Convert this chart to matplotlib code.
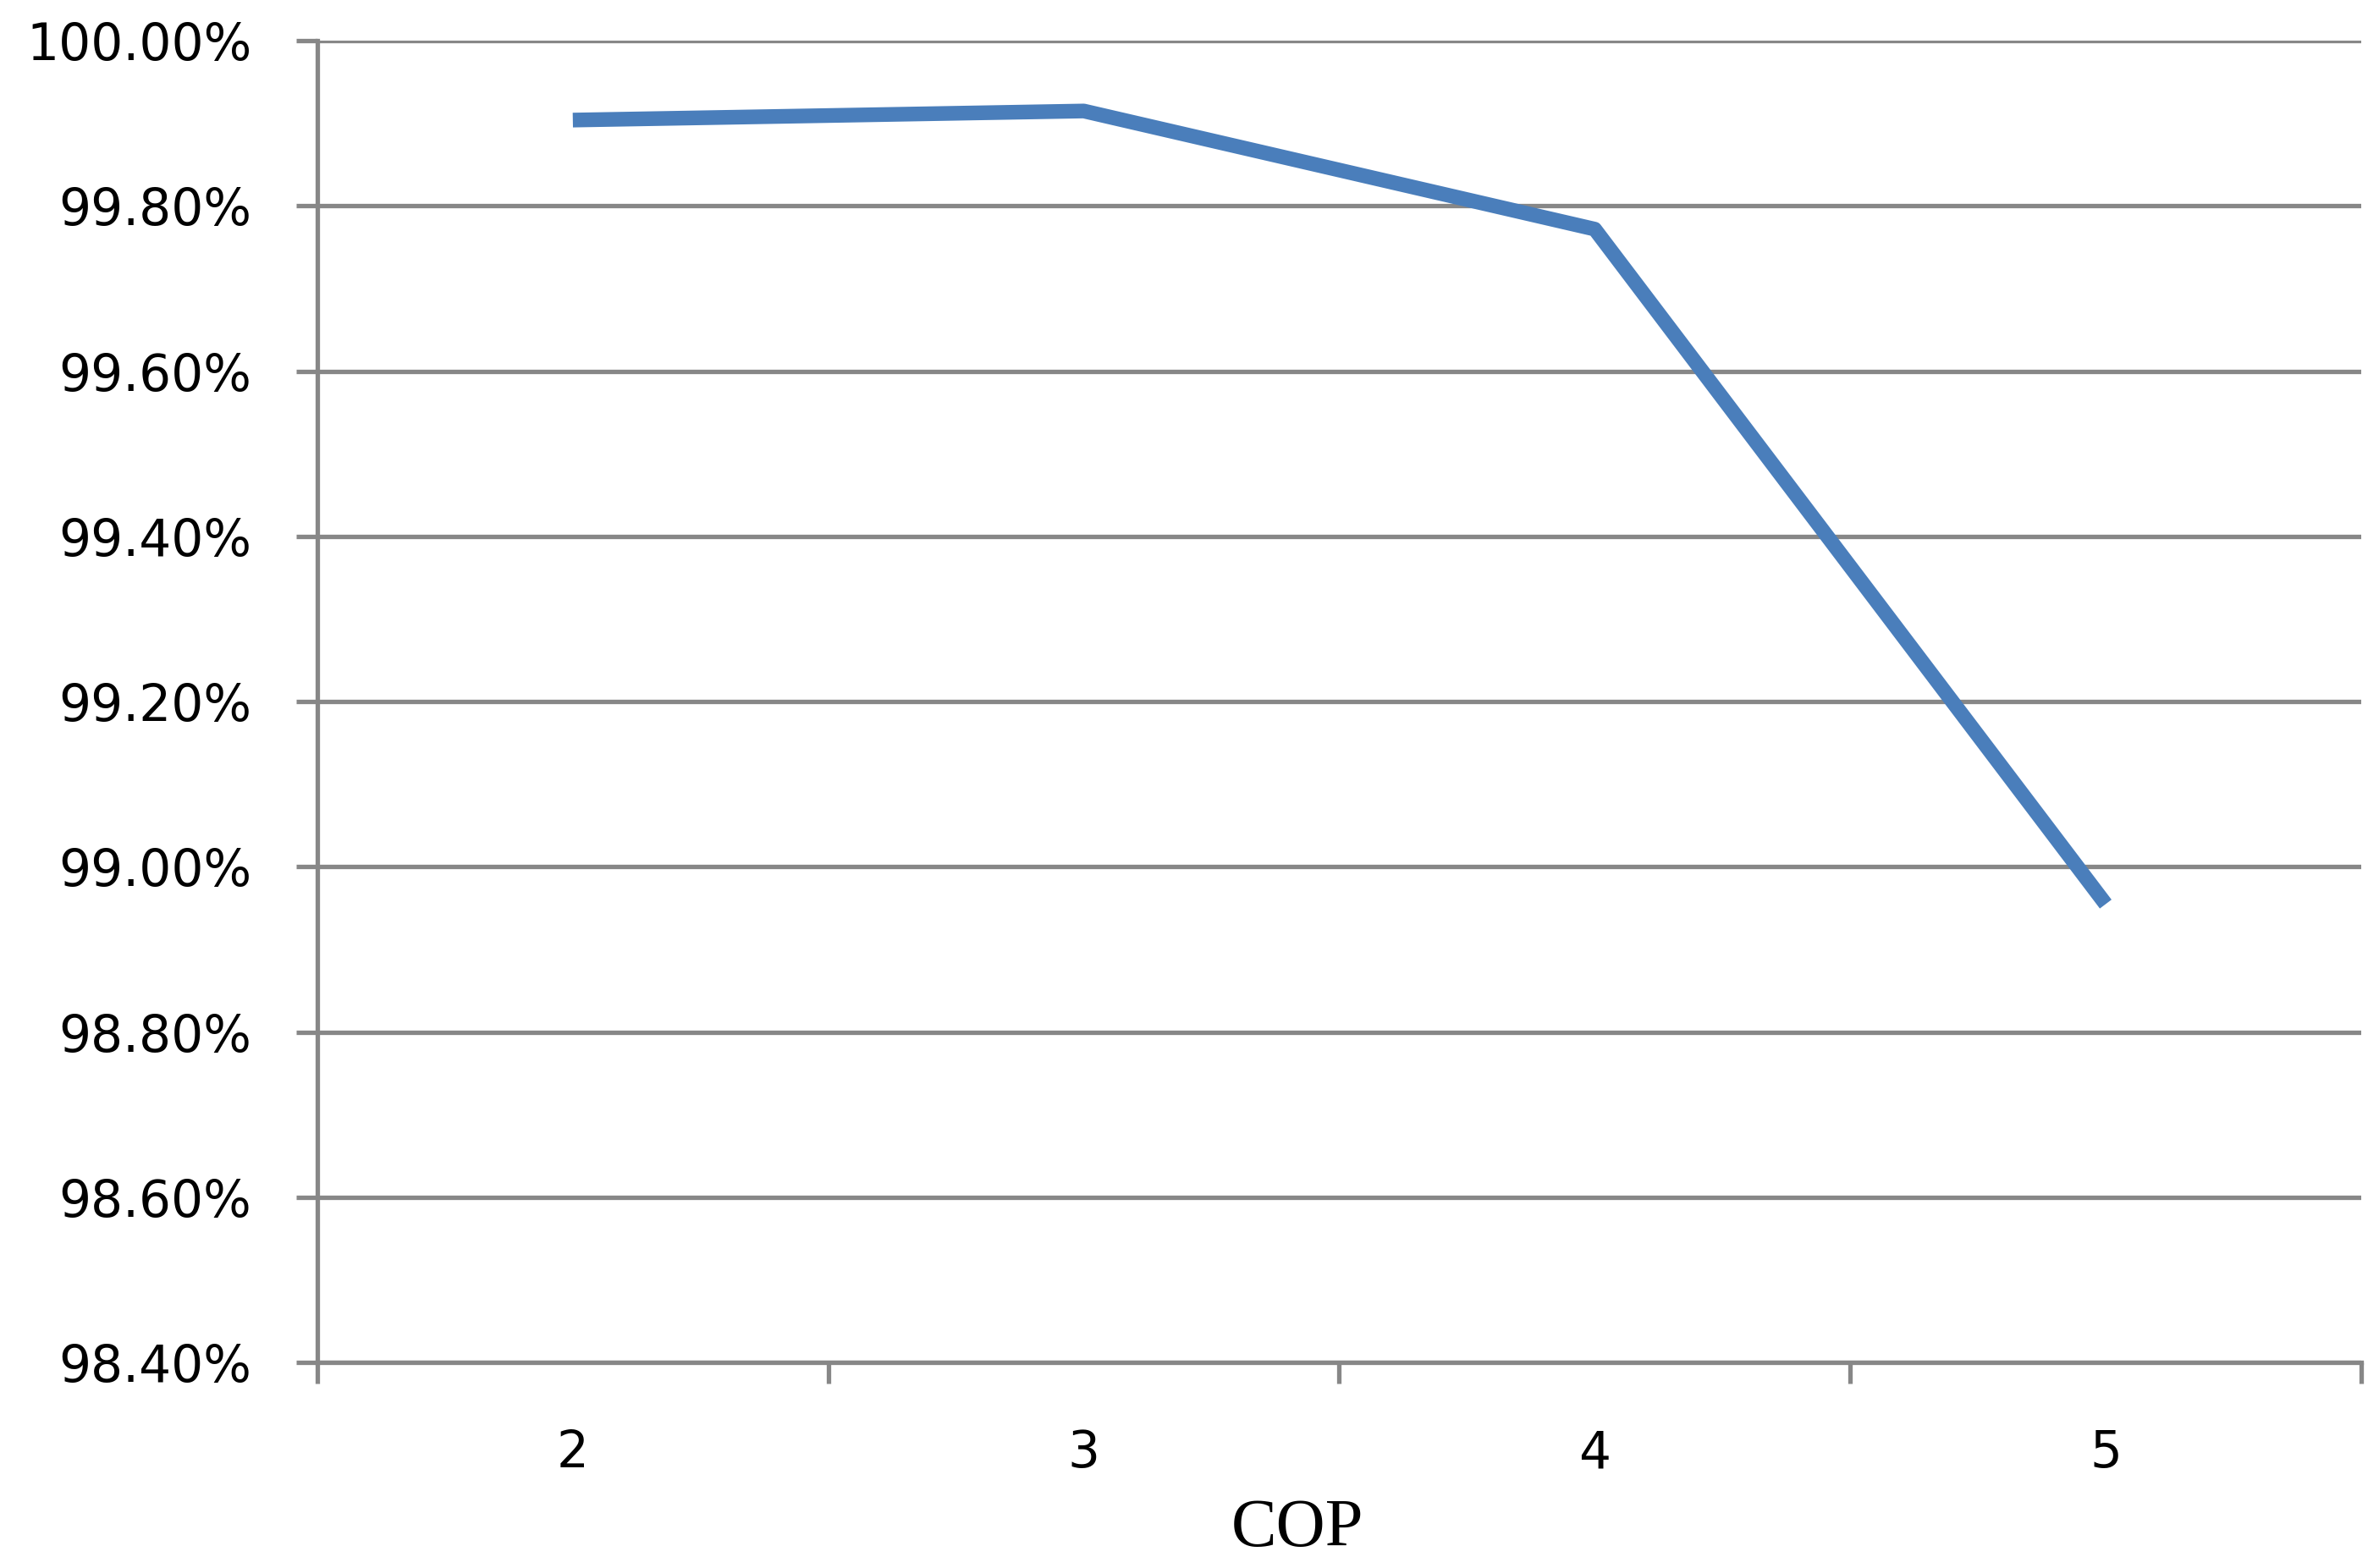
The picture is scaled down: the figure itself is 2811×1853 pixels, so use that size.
import matplotlib
matplotlib.use("Agg")
import matplotlib.pyplot as plt
from matplotlib.ticker import FuncFormatter

cop = ["2", "3", "4", "5"]
accuracy = [99.904, 99.915, 99.772, 98.955]   # percent
y_ticks = [98.4, 98.6, 98.8, 99.0, 99.2, 99.4, 99.6, 99.8, 100.0]

GRID = "#878787"
LINE = "#4a7ebb"

fig = plt.figure(figsize=(28.11, 18.53), dpi=100)
ax = fig.add_axes([0.1334, 0.131, 0.8591, 0.843])

x = list(range(len(cop)))
ax.plot(x, accuracy, color=LINE, lw=12.5, solid_capstyle="butt", solid_joinstyle="round", zorder=3)

ax.set_xlim(-0.5, len(cop) - 0.5)
ax.set_ylim(y_ticks[0], y_ticks[-1])
ax.set_yticks(y_ticks)
ax.yaxis.set_major_formatter(FuncFormatter(lambda v, _: f"{v:.2f}%"))
ax.grid(axis="y", color=GRID, lw=3.8)
ax.set_axisbelow(True)

# category labels at centres, tick marks at category boundaries
ax.set_xticks(x)
ax.set_xticklabels(cop)
ax.set_xticks([i - 0.5 for i in range(len(cop) + 1)], minor=True)
ax.tick_params(axis="x", which="major", length=0, pad=56, labelsize=43)
ax.tick_params(axis="x", which="minor", length=18, width=3.8, color=GRID, direction="out")
ax.tick_params(axis="y", length=18, width=3.8, color=GRID, pad=38, labelsize=43)

for s in ("top", "right"):
    ax.spines[s].set_visible(False)
for s in ("left", "bottom"):
    ax.spines[s].set_color(GRID)
    ax.spines[s].set_linewidth(3.8)

ax.set_xlabel("COP", family="Liberation Serif", fontsize=58, va="center")
ax.xaxis.set_label_coords(0.4795, -0.126)

fig.savefig("out.png", dpi=100, facecolor="white")
